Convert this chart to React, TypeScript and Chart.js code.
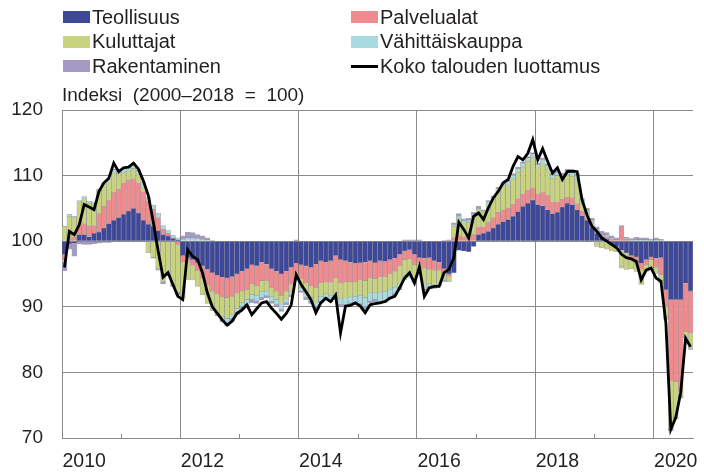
import React, { useEffect, useRef } from 'react';
import { Chart, registerables } from 'chart.js';

Chart.register(...registerables);

// ---------- DATA ----------
const YEARS = [2010, 2011, 2012, 2013, 2014, 2015, 2016, 2017, 2018, 2019, 2020];
const LAST_MONTH_2020 = 8;
const LABELS: string[] = [];
YEARS.forEach((y) => {
  const n = y === 2020 ? LAST_MONTH_2020 : 12;
  for (let m = 1; m <= n; m++) LABELS.push(`${y}-${String(m).padStart(2, '0')}`);
});

const BASE = 100;
const Y_TICKS = [70, 80, 90, 100, 110, 120];

const SERIES_NAMES = ['Teollisuus', 'Palvelualat', 'Kuluttajat', 'Vähittäiskauppa', 'Rakentaminen'];
const LINE_NAME = 'Koko talouden luottamus';

// contributions (index points relative to 100), monthly 2010/01 – 2020/08
const TEOLLISUUS = [
  -2.0, -0.4, -0.3, 1.0, 1.0, 0.7, 1.2, 1.4, 2.0, 2.7, 3.2, 3.6,
  4.1, 4.6, 5.0, 4.3, 3.2, 2.6, 2.3, 1.6, 1.0, 0.8, 0.4, 0.2,
  -2.2, -2.5, -2.8, -3.3, -3.8, -4.3, -4.8, -5.2, -5.5, -5.6, -5.4, -5.0,
  -4.6, -4.2, -3.6, -3.8, -3.2, -3.5, -4.2, -4.6, -5.0, -4.6, -4.0, -3.4,
  -3.6, -3.8, -4.0, -3.5, -3.0, -3.2, -3.0, -2.2, -2.8, -3.0, -3.2, -3.4,
  -3.3, -3.2, -3.0, -3.3, -3.0, -3.1, -2.8, -2.6, -2.0, -1.5, -1.3, -2.0,
  -2.5, -2.6, -2.5, -3.0, -3.2, -4.2, -5.0, -4.8, -1.4, -1.5, -1.6, -0.8,
  1.0, 1.2, 1.5, 2.0, 2.6, 3.0, 3.3, 3.8, 4.5, 5.3, 5.8, 6.3,
  5.6, 5.4, 4.8, 4.2, 4.4, 5.2, 5.8, 5.6, 4.8, 3.9, 3.2, 2.1,
  1.2, 0.6, 0.3, -0.5, -0.8, -1.4, -1.8, -2.2, -2.4, -3.4, -2.8, -2.4,
  -2.6, -2.5, -7.4, -8.9, -8.9, -8.9, -6.4, -7.6,
];
const PALVELUALAT = [
  -0.8, 0.4, 0.6, 1.4, 1.7, 1.6, 1.2, 2.8, 3.3, 3.6, 4.2, 4.4,
  4.8, 4.7, 4.5, 4.6, 4.3, 3.5, 2.6, 2.0, 0.8, 0.4, 0.1, -0.6,
  -1.0, -0.6, -0.9, -1.2, -1.8, -2.4, -2.8, -2.8, -3.0, -3.0, -3.0, -2.9,
  -3.0, -3.2, -2.9, -3.0, -2.8, -2.6, -2.9, -3.0, -3.3, -3.0, -2.6, -1.5,
  -2.2, -2.6, -2.8, -3.6, -3.4, -3.0, -3.3, -3.4, -3.6, -3.2, -3.0, -2.8,
  -2.6, -2.8, -2.6, -2.4, -2.5, -2.4, -2.2, -2.0, -1.8, -1.3, -1.4, -1.6,
  -0.8, -1.5, -1.8, -1.4, -1.2, -0.6, -0.3, 0.5, 0.8, 0.6, 0.5, 1.0,
  1.2, 1.0, 1.4, 1.6, 1.8, 1.7, 1.8, 1.9, 2.0, 1.9, 2.0, 1.8,
  1.6, 2.0, 2.2, 1.8, 1.6, 1.2, 0.9, 1.0, 0.9, 0.7, 0.4, 0.2,
  0.3, 0.2, 0.3, 0.3, 0.1, 2.2, 0.3, -0.4, -0.9, -0.9, -0.8, -0.4,
  -1.4, -2.6, -2.5, -12.4, -12.5, -13.8, -7.4, -6.4,
];
const KULUTTAJAT = [
  2.3, 3.4, 3.0, 3.5, 3.8, 3.5, 3.3, 3.4, 3.3, 2.9, 3.0, 2.3,
  1.6, 1.4, 1.6, 1.3, 0.8, -1.8, -2.5, -4.2, -6.2, -5.0, -6.6, -7.2,
  -5.5, -2.8, -2.2, -2.4, -2.6, -2.8, -2.8, -2.8, -3.0, -3.2, -2.8, -2.4,
  -1.8, -1.5, -1.6, -1.5, -1.7, -1.5, -1.3, -1.3, -1.3, -1.2, -1.0, -0.8,
  -1.3, -1.6, -1.8, -2.2, -2.0, -1.8, -2.0, -2.2, -2.4, -2.5, -2.3, -2.2,
  -2.4, -2.6, -2.3, -2.2, -2.4, -2.2, -2.3, -2.4, -2.6, -2.5, -2.4, -2.2,
  -1.6, -2.6, -2.2, -2.2, -2.0, -1.2, -0.8, 1.8, 2.6, 2.2, 2.4, 2.8,
  2.6, 2.2, 2.8, 2.8, 3.2, 3.6, 3.5, 3.8, 4.0, 4.1, 4.4, 4.7,
  4.0, 4.4, 4.0, 3.6, 4.0, 3.2, 3.4, 3.3, 3.8, 1.2, 0.8, 0.6,
  -0.8, -1.0, -1.2, -1.0, -0.8, -2.5, -2.5, -1.6, -1.3, -2.3, -1.0, -1.2,
  -0.9, -1.2, -1.6, -6.8, -5.0, -0.8, -0.8, -2.3,
];
const VAHITTAISKAUPPA = [
  -0.4, 0.3, 0.2, 0.3, 0.3, 0.3, 0.3, 0.3, 0.3, 0.3, 0.5, 0.5,
  0.5, 0.5, 0.6, 0.5, 0.6, 0.6, 0.6, 0.7, 0.6, 0.5, 0.4, 0.3,
  0.3, 0.5, 0.5, 0.4, 0.3, 0.2, -0.2, -0.4, -0.5, -0.6, -0.6, -0.5,
  -0.6, -0.7, -0.8, -0.8, -0.9, -0.7, -0.8, -0.7, -0.8, -0.6, -0.6, -0.4,
  -0.5, -0.6, -0.6, -0.7, -0.7, -0.6, -0.7, -0.8, -0.8, -0.9, -0.9, -1.0,
  -1.2, -1.4, -1.2, -1.0, -1.3, -1.4, -1.2, -1.0, -0.8, -0.6, -0.5, -0.5,
  -0.3, -0.6, -0.5, -0.4, -0.3, -0.2, -0.1, 0.2, 0.4, 0.3, 0.3, 0.3,
  0.2, 0.2, 0.3, 0.3, 0.4, 0.4, 0.5, 0.6, 0.6, 0.6, 0.5, 0.5,
  0.5, 0.6, 0.5, 0.5, 0.5, 0.5, 0.6, 0.6, 0.6, 0.5, 0.3, 0.3,
  0.3, 0.2, 0.3, 0.2, 0.1, -0.2, 0.1, 0.1, 0.2, 0.2, 0.2, 0.1,
  0.2, 0.1, -0.3, -0.5, -0.4, -0.2, -0.1, -0.1,
];
const RAKENTAMINEN = [
  -1.3, -0.8, -2.0, -0.4, -0.5, -0.5, -0.4, -0.3, -0.2, -0.2, 0.1, 0.1,
  0.2, 0.2, 0.2, 0.1, 0.1, 0.0, -0.1, -0.2, -0.3, -0.3, -0.3, -0.4,
  0.5, 0.9, 0.8, 0.6, 0.5, 0.3, 0.1, -0.2, -0.3, -0.5, -0.4, -0.4,
  -0.4, -0.4, -0.5, -0.4, -0.4, -0.3, -0.3, -0.3, -0.3, -0.3, -0.3, 0.2,
  -0.2, -0.3, -0.3, -0.3, -0.3, -0.3, -0.3, -0.3, -0.4, -0.4, -0.3, -0.3,
  -0.3, -0.4, -0.3, -0.3, -0.3, -0.3, -0.3, -0.3, -0.2, 0.2, 0.2, 0.2,
  0.2, -0.2, -0.2, -0.2, -0.1, 0.1, 0.2, 0.3, 0.4, 0.3, 0.3, 0.3,
  0.3, 0.2, 0.2, 0.2, 0.2, 0.2, 0.2, 0.2, 0.2, 0.2, 0.2, 0.2,
  0.2, 0.3, 0.3, 0.3, 0.3, 0.3, 0.3, 0.3, 0.2, 0.2, 0.3, 0.3,
  0.4, 0.5, 0.4, 0.3, 0.3, 0.2, 0.2, 0.3, 0.4, 0.3, 0.3, 0.2,
  0.3, 0.2, -0.1, -0.3, -0.3, -0.2, -0.1, -0.1,
];
// overall confidence index (2000–2018 = 100)
const KOKO_TALOUS = [
  96.0, 101.5, 101.0, 102.5, 105.6, 105.2, 104.8, 107.6, 108.9, 109.6, 111.9, 110.6,
  111.2, 111.3, 111.9, 111.0, 109.2, 107.0, 103.0, 98.5, 94.5, 95.2, 93.4, 91.6,
  91.1, 98.7, 97.7, 97.2, 95.2, 92.1, 90.0, 89.0, 88.0, 87.2, 87.8, 89.0,
  89.5, 90.3, 88.8, 89.7, 90.6, 90.8, 89.8, 89.0, 88.1, 89.0, 90.3, 94.9,
  93.4, 92.3, 91.1, 89.1, 90.6, 91.3, 90.8, 91.8, 86.0, 90.1, 90.2, 90.6,
  90.1, 89.1, 90.3, 90.5, 90.6, 90.8, 91.3, 91.6, 92.9, 94.4, 95.2, 93.6,
  96.1, 91.6, 92.9, 93.1, 93.1, 95.2, 95.7, 97.5, 102.9, 101.8, 100.5, 103.8,
  104.3, 103.3, 105.1, 106.6, 107.6, 108.9, 109.4, 111.4, 112.9, 112.4, 113.4, 115.5,
  112.4, 114.1, 112.2, 110.4, 111.2, 109.4, 110.6, 110.7, 110.6, 106.3, 104.0, 102.3,
  101.5, 100.5, 100.0, 99.5, 99.0, 98.0, 97.5, 97.3, 96.9, 94.1, 95.6, 95.9,
  94.4, 93.9, 87.5, 71.3, 73.1, 76.9, 85.2, 83.9,
];

const SERIES_DATA = [TEOLLISUUS, PALVELUALAT, KULUTTAJAT, VAHITTAISKAUPPA, RAKENTAMINEN];
const SERIES_COLORS = ['#3e4899', '#ee8b8e', '#c8d37f', '#a8dbe0', '#a59ac3'];

// ---------- STYLE ----------
const FONT = '"Liberation Sans", Arial, sans-serif';
const TEXT = '#231f20';
const GRID = '#8a8a8a';
const BAR_EDGE = 'rgba(95,95,110,0.55)';

export default function App() {
  const ref = useRef<HTMLCanvasElement>(null);

  useEffect(() => {
    document.body.style.margin = '0';
    const minorTicks = {
      id: 'minorTicks',
      afterDatasetsDraw(chart: any) {
        const x = chart.scales.x;
        const { bottom } = chart.chartArea;
        const ctx = chart.ctx;
        ctx.save();
        ctx.strokeStyle = GRID;
        ctx.lineWidth = 1;
        for (let i = 12; i < LABELS.length; i += 24) {
          const px = Math.round((x.getPixelForValue(i - 1) + x.getPixelForValue(i)) / 2) + 0.5;
          ctx.beginPath();
          ctx.moveTo(px, bottom);
          ctx.lineTo(px, bottom - 4);
          ctx.stroke();
        }
        ctx.restore();
      },
    };

    const chart = new Chart(ref.current as HTMLCanvasElement, {
      type: 'bar',
      data: {
        labels: LABELS,
        datasets: [
          ...SERIES_NAMES.map((name, k) => ({
            type: 'bar' as const,
            label: name,
            data: SERIES_DATA[k],
            backgroundColor: SERIES_COLORS[k],
            borderColor: BAR_EDGE,
            borderWidth: 0.6,
            barPercentage: 1,
            categoryPercentage: 1,
            stack: 'parts',
            order: 1,
          })),
          {
            type: 'line' as const,
            label: LINE_NAME,
            data: KOKO_TALOUS.map((v) => v - BASE),
            borderColor: '#000000',
            borderWidth: 2.8,
            pointRadius: 0,
            tension: 0,
            fill: false,
            stack: 'total',
            order: 0,
          },
        ],
      },
      options: {
        animation: false,
        responsive: false,
        layout: { padding: { top: 110, right: 11, left: 0, bottom: 0 } },
        plugins: { legend: { display: false }, tooltip: { enabled: false }, title: { display: false } },
        scales: {
          x: {
            type: 'category',
            stacked: true,
            offset: true,
            grid: {
              offset: true,
              drawTicks: false,
              lineWidth: 1,
              color: (c: any) =>
                c.index > 0 && c.index < LABELS.length && c.index % 24 === 0 ? GRID : 'rgba(0,0,0,0)',
            },
            border: { display: true, color: GRID, width: 1 },
            ticks: {
              autoSkip: false,
              maxRotation: 0,
              minRotation: 0,
              padding: 12,
              color: TEXT,
              font: { family: FONT, size: 19.5 },
              callback: (_v: any, i: number) => (i % 24 === 4 ? LABELS[i].slice(0, 4) : ''),
            },
            afterFit: (s: any) => {
              s.height = 36;
            },
          },
          y: {
            stacked: true,
            min: Y_TICKS[0] - BASE,
            max: Y_TICKS[Y_TICKS.length - 1] - BASE,
            ticks: {
              stepSize: 10,
              padding: 19,
              color: TEXT,
              font: { family: FONT, size: 19 },
              callback: (v: any) => String(Number(v) + BASE),
            },
            grid: { color: GRID, drawTicks: false, lineWidth: 1 },
            border: { display: true, color: GRID, width: 1 },
            afterFit: (s: any) => {
              s.width = 62;
            },
          },
        },
      },
      plugins: [minorTicks],
    });
    return () => chart.destroy();
  }, []);

  const legendItems = [...SERIES_NAMES.map((n, k) => ({ name: n, color: SERIES_COLORS[k], line: false })), { name: LINE_NAME, color: '#000', line: true }];

  return (
    <div style={{ position: 'relative', width: 704, height: 474, fontFamily: FONT, color: TEXT, overflow: 'hidden' }}>
      <canvas ref={ref} width={704} height={474} style={{ position: 'absolute', left: 0, top: 0 }} />
      <div
        style={{
          position: 'absolute',
          left: 63,
          top: 5,
          display: 'grid',
          gridTemplateColumns: '288px auto',
          fontSize: 20,
        }}
      >
        {legendItems.map((it) => (
          <div key={it.name} style={{ display: 'flex', alignItems: 'center', height: 24.5, whiteSpace: 'nowrap' }}>
            {it.line ? (
              <span style={{ display: 'inline-block', width: 27, height: 3, background: it.color, marginRight: 2 }} />
            ) : (
              <span style={{ display: 'inline-block', width: 27, height: 12, background: it.color, marginRight: 2 }} />
            )}
            <span>{it.name}</span>
          </div>
        ))}
      </div>
      <div style={{ position: 'absolute', left: 62, top: 84, fontSize: 19, whiteSpace: 'pre' }}>
        {'Indeksi  (2000–2018  =  100)'}
      </div>
    </div>
  );
}
